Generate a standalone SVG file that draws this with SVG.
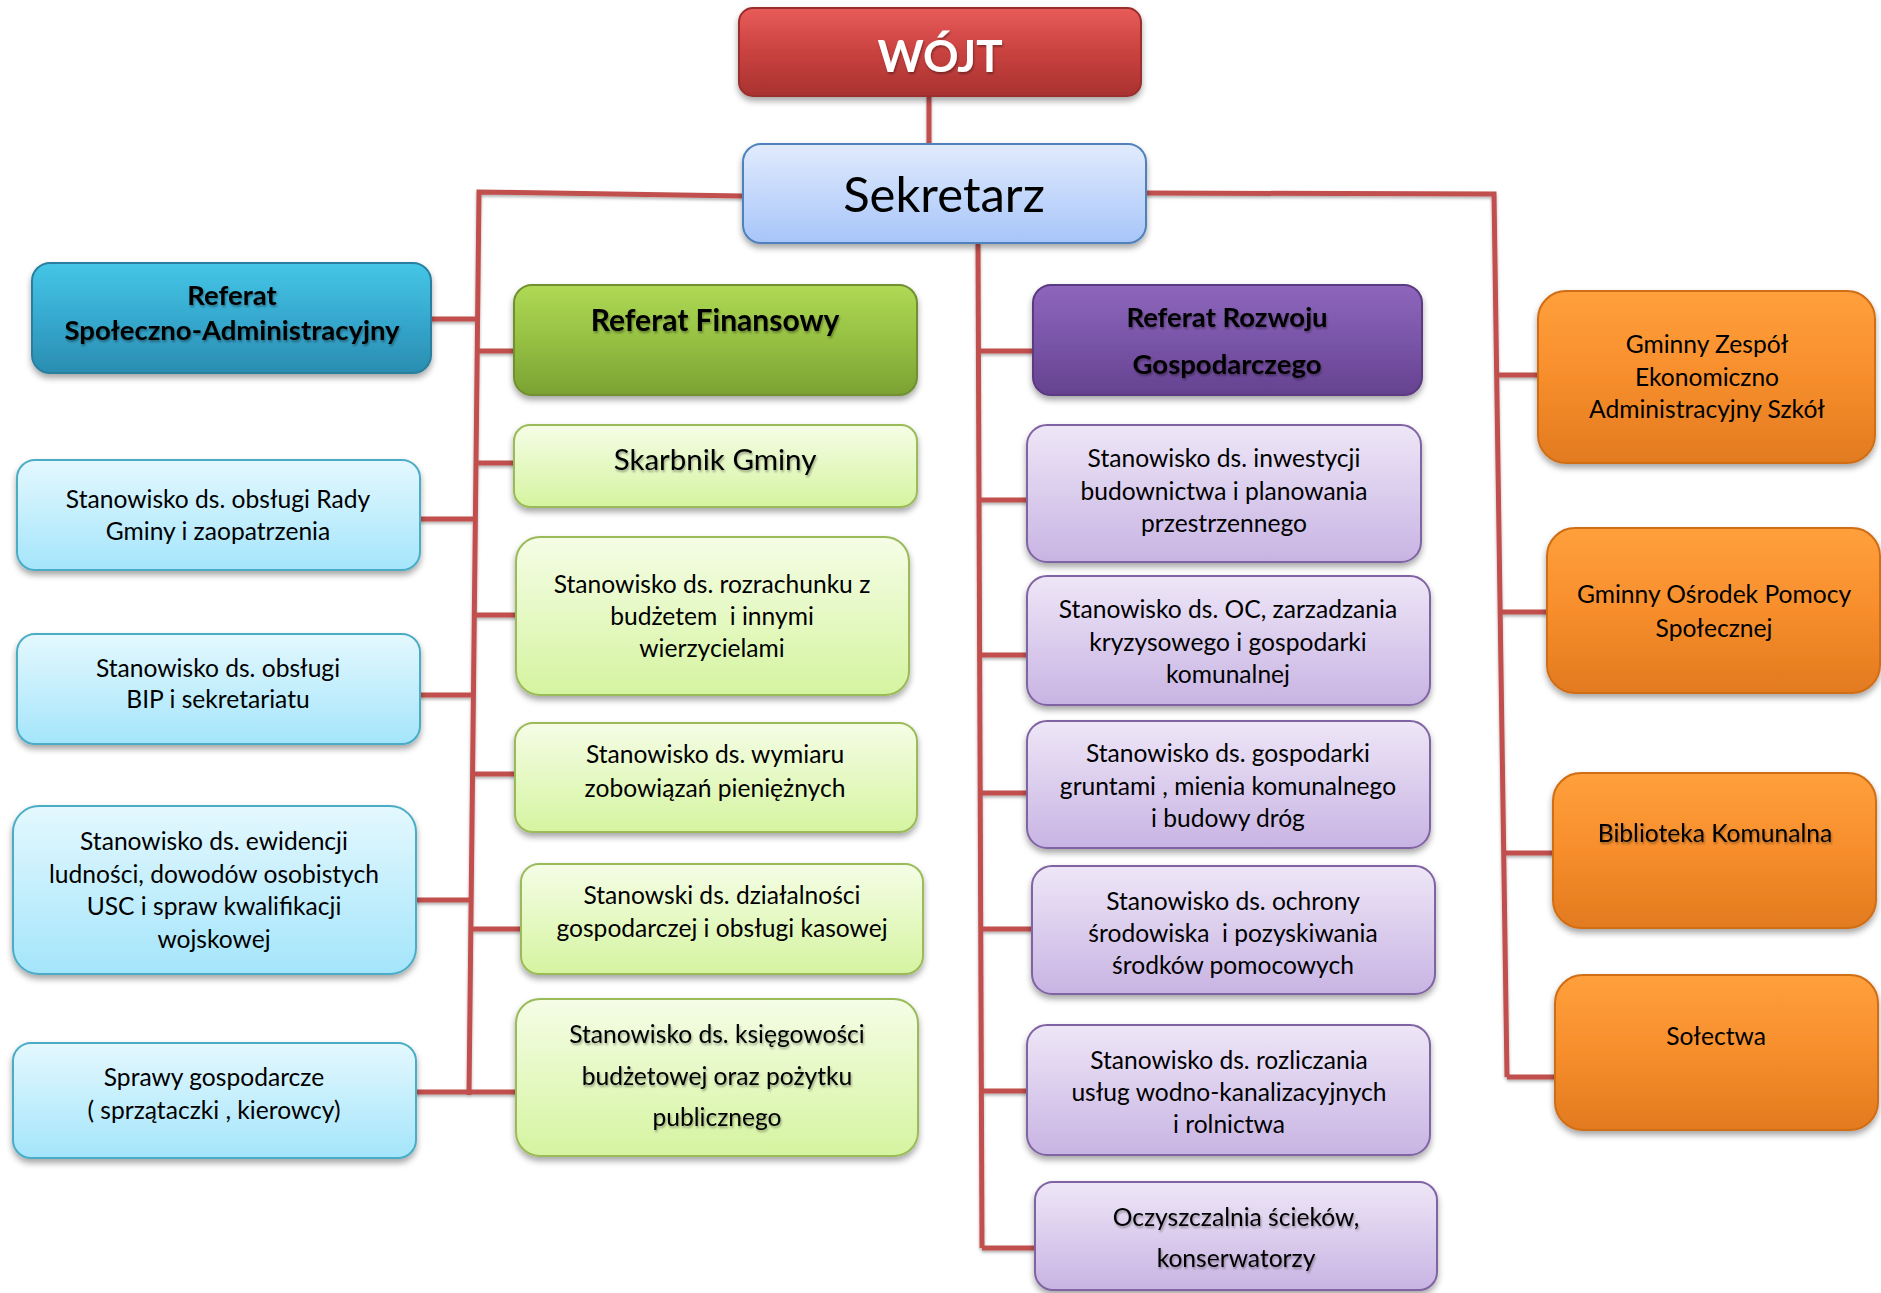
<svg xmlns="http://www.w3.org/2000/svg" width="1881" height="1293" viewBox="0 0 1881 1293">
<defs>
<filter id="sh" x="-10%" y="-10%" width="120%" height="130%"><feDropShadow dx="0" dy="4" stdDeviation="3" flood-color="#000" flood-opacity="0.35"/></filter>
<filter id="tsh" x="-10%" y="-20%" width="120%" height="150%"><feDropShadow dx="1" dy="2" stdDeviation="1.2" flood-color="#000" flood-opacity="0.35"/></filter>
<filter id="lsh" filterUnits="userSpaceOnUse" x="0" y="0" width="1881" height="1293"><feDropShadow dx="0" dy="2" stdDeviation="1.5" flood-color="#000" flood-opacity="0.3"/></filter>
<linearGradient id="gRed" x1="0" y1="0" x2="0" y2="1"><stop offset="0" stop-color="#E85C59"/><stop offset="0.5" stop-color="#C94240"/><stop offset="1" stop-color="#A93230"/></linearGradient>
<linearGradient id="gBlue" x1="0" y1="0" x2="0" y2="1"><stop offset="0" stop-color="#E1EBFD"/><stop offset="1" stop-color="#A7C5F9"/></linearGradient>
<linearGradient id="gTeal" x1="0" y1="0" x2="0" y2="1"><stop offset="0" stop-color="#45C6E6"/><stop offset="0.5" stop-color="#36A9CF"/><stop offset="1" stop-color="#2A8DB0"/></linearGradient>
<linearGradient id="gCyan" x1="0" y1="0" x2="0" y2="1"><stop offset="0" stop-color="#E4F8FE"/><stop offset="1" stop-color="#A4E5FB"/></linearGradient>
<linearGradient id="gGreen" x1="0" y1="0" x2="0" y2="1"><stop offset="0" stop-color="#AFD955"/><stop offset="0.5" stop-color="#95C042"/><stop offset="1" stop-color="#7AA233"/></linearGradient>
<linearGradient id="gLGreen" x1="0" y1="0" x2="0" y2="1"><stop offset="0" stop-color="#F5FDE6"/><stop offset="1" stop-color="#D5F4A0"/></linearGradient>
<linearGradient id="gPurple" x1="0" y1="0" x2="0" y2="1"><stop offset="0" stop-color="#8E66BC"/><stop offset="0.5" stop-color="#7A55A8"/><stop offset="1" stop-color="#664290"/></linearGradient>
<linearGradient id="gLPurple" x1="0" y1="0" x2="0" y2="1"><stop offset="0" stop-color="#EEE6F7"/><stop offset="1" stop-color="#C8B4E3"/></linearGradient>
<linearGradient id="gOrange" x1="0" y1="0" x2="0" y2="1"><stop offset="0" stop-color="#FFA03C"/><stop offset="0.5" stop-color="#F78E2C"/><stop offset="1" stop-color="#E27A1F"/></linearGradient>
</defs>
<style>
text{font-family:Lato,"Liberation Sans",sans-serif;text-anchor:middle;fill:#000;white-space:pre;font-size:24.6px}
.b{font-weight:bold;font-size:27.5px}
.wojt{fill:#fff;font-size:44px;font-weight:bold}
.sek{font-size:49px}
.fin{font-size:30px;font-weight:bold}
.skarb{font-size:29.5px}
.ts{filter:url(#tsh)}
rect{filter:url(#sh);stroke-width:2}
.red{fill:url(#gRed);stroke:#9A2E2C}
.blue{fill:url(#gBlue);stroke:#4F81BD}
.teal{fill:url(#gTeal);stroke:#2B7F9E}
.cyan{fill:url(#gCyan);stroke:#4BACC6}
.green{fill:url(#gGreen);stroke:#6F9030}
.lgreen{fill:url(#gLGreen);stroke:#9BBB59}
.purple{fill:url(#gPurple);stroke:#5A3A80}
.lpurple{fill:url(#gLPurple);stroke:#8064A2}
.orange{fill:url(#gOrange);stroke:#D06E18}
#connectors{filter:url(#lsh)}
#connectors path{fill:none;stroke:#C0504D;stroke-width:5}
</style>
<g id="connectors">
<path d="M929,96 V144"/>
<path d="M743,196 L479,192 L469,1095"/>
<path d="M431,319 H478"/>
<path d="M477,351 H514"/>
<path d="M476,463 H514"/>
<path d="M420,519 H475"/>
<path d="M474,615 H516"/>
<path d="M420,695 H473"/>
<path d="M473,774 H515"/>
<path d="M416,900 H471"/>
<path d="M471,929 H521"/>
<path d="M416,1092 H516"/>
<path d="M978,243 L982,1248"/>
<path d="M978,351 H1033"/>
<path d="M979,500 H1027"/>
<path d="M980,655 H1027"/>
<path d="M980,793 H1027"/>
<path d="M981,929 H1032"/>
<path d="M981,1091 H1027"/>
<path d="M982,1248 H1034"/>
<path d="M1146,193 L1494,194 L1507,1077"/>
<path d="M1497,375 H1538"/>
<path d="M1500,612 H1547"/>
<path d="M1504,853 H1553"/>
<path d="M1507,1077 H1555"/>
</g>
<g id="wojt"><rect class="red" x="739" y="8" width="402" height="88" rx="14"/><text class="wojt ts" x="940" y="72">WÓJT</text></g>
<g id="sekretarz"><rect class="blue" x="743" y="144" width="403" height="99" rx="18"/><text class="sek" x="944" y="212">Sekretarz</text></g>
<g id="ref-spol"><rect class="teal" x="32" y="263" width="399" height="110" rx="18"/><text class="b ts" x="232" y="305">Referat</text><text class="b ts" x="232" y="340">Społeczno-Administracyjny</text></g>
<g id="ref-fin"><rect class="green" x="514" y="285" width="403" height="110" rx="18"/><text class="fin ts" x="715" y="331">Referat Finansowy</text></g>
<g id="ref-roz"><rect class="purple" x="1033" y="285" width="389" height="110" rx="18"/><text class="b ts" x="1227" y="327">Referat Rozwoju</text><text class="b ts" x="1227" y="374">Gospodarczego</text></g>
<g id="zespol"><rect class="orange" x="1538" y="291" width="337" height="172" rx="28"/><text x="1707" y="353">Gminny Zespół</text><text x="1707" y="386">Ekonomiczno</text><text x="1707" y="418">Administracyjny Szkół</text></g>
<g id="rady"><rect class="cyan" x="17" y="460" width="403" height="110" rx="18"/><text x="218" y="508">Stanowisko ds. obsługi Rady</text><text x="218" y="540">Gminy i zaopatrzenia</text></g>
<g id="skarbnik"><rect class="lgreen" x="514" y="425" width="403" height="82" rx="16"/><text class="skarb ts" x="715" y="470">Skarbnik Gminy</text></g>
<g id="inwestycje"><rect class="lpurple" x="1027" y="425" width="394" height="137" rx="20"/><text x="1224" y="467">Stanowisko ds. inwestycji</text><text x="1224" y="500">budownictwa i planowania</text><text x="1224" y="532">przestrzennego</text></g>
<g id="rozrachunek"><rect class="lgreen" x="516" y="537" width="393" height="158" rx="24"/><text x="712" y="593">Stanowisko ds. rozrachunku z</text><text x="712" y="625">budżetem  i innymi</text><text x="712" y="657">wierzycielami</text></g>
<g id="oc"><rect class="lpurple" x="1027" y="576" width="403" height="129" rx="20"/><text x="1228" y="618">Stanowisko ds. OC, zarzadzania</text><text x="1228" y="651">kryzysowego i gospodarki</text><text x="1228" y="683">komunalnej</text></g>
<g id="gops"><rect class="orange" x="1547" y="528" width="333" height="165" rx="28"/><text x="1714" y="603">Gminny Ośrodek Pomocy</text><text x="1714" y="637">Społecznej</text></g>
<g id="bip"><rect class="cyan" x="17" y="634" width="403" height="110" rx="18"/><text x="218" y="677">Stanowisko ds. obsługi</text><text x="218" y="708">BIP i sekretariatu</text></g>
<g id="wymiar"><rect class="lgreen" x="515" y="723" width="402" height="109" rx="18"/><text x="715" y="763">Stanowisko ds. wymiaru</text><text x="715" y="797">zobowiązań pieniężnych</text></g>
<g id="grunty"><rect class="lpurple" x="1027" y="721" width="403" height="127" rx="20"/><text x="1228" y="762">Stanowisko ds. gospodarki</text><text x="1228" y="795">gruntami , mienia komunalnego</text><text x="1228" y="827">i budowy dróg</text></g>
<g id="ewidencja"><rect class="cyan" x="13" y="806" width="403" height="168" rx="26"/><text x="214" y="850">Stanowisko ds. ewidencji</text><text x="214" y="883">ludności, dowodów osobistych</text><text x="214" y="915">USC i spraw kwalifikacji</text><text x="214" y="948">wojskowej</text></g>
<g id="dzialalnosc"><rect class="lgreen" x="521" y="864" width="402" height="110" rx="18"/><text x="722" y="904">Stanowski ds. działalności</text><text x="722" y="937">gospodarczej i obsługi kasowej</text></g>
<g id="ochrona"><rect class="lpurple" x="1032" y="866" width="403" height="128" rx="20"/><text x="1233" y="910">Stanowisko ds. ochrony</text><text x="1233" y="942">środowiska  i pozyskiwania</text><text x="1233" y="974">środków pomocowych</text></g>
<g id="biblioteka"><rect class="orange" x="1553" y="773" width="323" height="155" rx="28"/><text class="ts" x="1715" y="842">Biblioteka Komunalna</text></g>
<g id="sprawy"><rect class="cyan" x="13" y="1043" width="403" height="115" rx="18"/><text x="214" y="1086">Sprawy gospodarcze</text><text x="214" y="1119">( sprzątaczki , kierowcy)</text></g>
<g id="ksiegowosc"><rect class="lgreen" x="516" y="999" width="402" height="157" rx="24"/><text class="ts" x="717" y="1043">Stanowisko ds. księgowości</text><text class="ts" x="717" y="1085">budżetowej oraz pożytku</text><text class="ts" x="717" y="1126">publicznego</text></g>
<g id="rozliczanie"><rect class="lpurple" x="1027" y="1025" width="403" height="130" rx="20"/><text x="1229" y="1069">Stanowisko ds. rozliczania</text><text x="1229" y="1101">usług wodno-kanalizacyjnych</text><text x="1229" y="1133">i rolnictwa</text></g>
<g id="solectwa"><rect class="orange" x="1555" y="975" width="323" height="155" rx="28"/><text x="1716" y="1045">Sołectwa</text></g>
<g id="oczyszczalnia"><rect class="lpurple" x="1035" y="1182" width="402" height="108" rx="18"/><text class="ts" x="1236" y="1226">Oczyszczalnia ścieków,</text><text class="ts" x="1236" y="1267">konserwatorzy</text></g>
</svg>
